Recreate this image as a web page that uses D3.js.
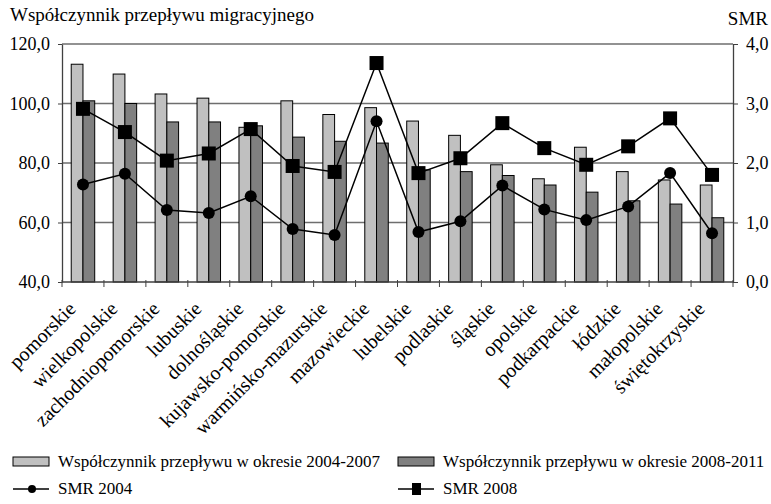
<!DOCTYPE html>
<html>
<head>
<meta charset="utf-8" />
<title>Współczynnik przepływu migracyjnego i SMR</title>
<script src="https://d3js.org/d3.v7.min.js"></script>
<style>
  body { margin: 0; background: #ffffff; }
  svg text { font-family: "Liberation Serif", "Times New Roman", serif; fill: #000; }
</style>
</head>
<body>
<svg id="chart"></svg>
<script>
// values
var regions = ["pomorskie", "wielkopolskie", "zachodniopomorskie", "lubuskie", "dolnośląskie",
  "kujawsko-pomorskie", "warmińsko-mazurskie", "mazowieckie", "lubelskie", "podlaskie",
  "śląskie", "opolskie", "podkarpackie", "łódzkie", "małopolskie", "świętokrzyskie"];
var flow0407 = [113.2, 109.9, 103.2, 101.8, 92.0, 100.9, 96.3, 98.6, 94.1, 89.3, 79.4, 74.7, 85.3, 77.1, 74.3, 72.6];
var flow0811 = [100.9, 100.0, 93.8, 93.8, 92.5, 88.7, 87.3, 86.7, 77.7, 77.1, 75.8, 72.6, 70.2, 67.3, 66.2, 61.6];
var smr2004 = [1.64, 1.82, 1.21, 1.16, 1.44, 0.89, 0.79, 2.70, 0.84, 1.02, 1.62, 1.22, 1.04, 1.27, 1.83, 0.82];
var smr2008 = [2.91, 2.52, 2.04, 2.16, 2.57, 1.95, 1.85, 3.68, 1.83, 2.08, 2.67, 2.25, 1.97, 2.28, 2.75, 1.80];
var leftTicks = [40, 60, 80, 100, 120];
var rightTicks = [0, 1, 2, 3, 4];
var seriesNames = ["Współczynnik przepływu w okresie 2004-2007", "Współczynnik przepływu w okresie 2008-2011", "SMR 2004", "SMR 2008"];

var width = 771, height = 504;
var plotLeft = 62, plotRight = 733, plotTop = 44, plotBottom = 282;

var svg = d3.select("#chart").attr("width", width).attr("height", height);

var x = d3.scaleBand().domain(regions).range([plotLeft, plotRight]).padding(0);
var inner = d3.scaleBand().domain([0, 1]).range([x.bandwidth() * 0.22, x.bandwidth() * 0.78]);
var yL = d3.scaleLinear().domain([40, 120]).range([plotBottom, plotTop]);
var yR = d3.scaleLinear().domain([0, 4]).range([plotBottom, plotTop]);

var fmt = function(d) { return d3.format(".1f")(d).replace(".", ","); };
var cx = function(i) { return x(regions[i]) + x.bandwidth() / 2; };

// gridlines
svg.append("g").selectAll("line")
  .data(leftTicks.slice(1))
  .enter().append("line")
  .attr("x1", plotLeft).attr("x2", plotRight)
  .attr("y1", function(d) { return yL(d); })
  .attr("y2", function(d) { return yL(d); })
  .attr("stroke", "#6e6e6e").attr("stroke-width", 1.3);

// bars
var rows = regions.map(function(r, i) { return { region: r, vals: [flow0407[i], flow0811[i]] }; });
var barColors = ["#c0c0c0", "#808080"];
svg.append("g").selectAll("g")
  .data(rows)
  .enter().append("g")
  .attr("transform", function(d) { return "translate(" + x(d.region) + ",0)"; })
  .selectAll("rect")
  .data(function(d) { return d.vals; })
  .enter().append("rect")
  .attr("x", function(d, i) { return inner(i); })
  .attr("width", inner.bandwidth())
  .attr("y", function(d) { return yL(d); })
  .attr("height", function(d) { return yL(40) - yL(d); })
  .attr("fill", function(d, i) { return barColors[i]; })
  .attr("stroke", "#000").attr("stroke-width", 1);

// axes
var axL = svg.append("g").attr("transform", "translate(" + plotLeft + ",0)")
  .call(d3.axisLeft(yL).tickValues(leftTicks).tickFormat(fmt).tickSizeInner(4).tickSizeOuter(0).tickPadding(8));
var axR = svg.append("g").attr("transform", "translate(" + plotRight + ",0)")
  .call(d3.axisRight(yR).tickValues(rightTicks).tickFormat(fmt).tickSizeInner(5).tickSizeOuter(0).tickPadding(8));
var bounds = regions.map(function(r) { return x(r); }).concat([plotRight]);
var axB = svg.append("g").attr("transform", "translate(0," + plotBottom + ")");
axB.append("line").attr("x1", plotLeft).attr("x2", plotRight).attr("stroke", "#404040").attr("stroke-width", 1.3);
axB.selectAll("line.tk").data(bounds).enter().append("line").attr("class", "tk")
  .attr("x1", function(d) { return d; }).attr("x2", function(d) { return d; })
  .attr("y1", -2).attr("y2", 5).attr("stroke", "#404040");

[axL, axR].forEach(function(a) {
  a.select(".domain").attr("stroke", "#404040").attr("stroke-width", 1.3);
  a.selectAll(".tick line").attr("stroke", "#404040");
  a.selectAll("text").style("font-size", "18px").style("font-family", "Liberation Serif, serif");
});

// category labels
axB.selectAll("text.cat").data(regions).enter().append("text").attr("class", "cat")
  .attr("transform", function(d) { return "translate(" + (x(d) + x.bandwidth() / 2 - 6) + ",28) rotate(-45)"; })
  .attr("text-anchor", "end")
  .style("font-size", "20px")
  .text(function(d) { return d; });

// SMR lines
var smrLine = d3.line().x(function(d, i) { return cx(i); }).y(function(d) { return yR(d); });
svg.append("path").datum(smr2004).attr("d", smrLine).attr("fill", "none").attr("stroke", "#000").attr("stroke-width", 1.5);
svg.append("path").datum(smr2008).attr("d", smrLine).attr("fill", "none").attr("stroke", "#000").attr("stroke-width", 1.5);

svg.append("g").selectAll("circle").data(smr2004).enter().append("circle")
  .attr("cx", function(d, i) { return cx(i); })
  .attr("cy", function(d) { return yR(d); })
  .attr("r", 6).attr("fill", "#000");

svg.append("g").selectAll("rect").data(smr2008).enter().append("rect")
  .attr("x", function(d, i) { return cx(i) - 7; })
  .attr("y", function(d) { return yR(d) - 7; })
  .attr("width", 14).attr("height", 14).attr("fill", "#000");

// axis titles
svg.append("text").attr("x", 10).attr("y", 21).style("font-size", "19px").text("Współczynnik przepływu migracyjnego");
svg.append("text").attr("x", 768).attr("y", 25).attr("text-anchor", "end").style("font-size", "19px").text("SMR");

// legend
var legX = [13, 398];
var lg = svg.append("g");
lg.append("rect").attr("x", legX[0]).attr("y", 457).attr("width", 36).attr("height", 9)
  .attr("fill", barColors[0]).attr("stroke", "#000");
lg.append("rect").attr("x", legX[1]).attr("y", 457).attr("width", 36).attr("height", 9)
  .attr("fill", barColors[1]).attr("stroke", "#000");
lg.append("line").attr("x1", legX[0]).attr("x2", legX[0] + 36).attr("y1", 489).attr("y2", 489).attr("stroke", "#000").attr("stroke-width", 1.5);
lg.append("circle").attr("cx", legX[0] + 19).attr("cy", 489).attr("r", 4).attr("fill", "#000");
lg.append("line").attr("x1", legX[1]).attr("x2", legX[1] + 36).attr("y1", 489).attr("y2", 489).attr("stroke", "#000").attr("stroke-width", 1.5);
lg.append("rect").attr("x", legX[1] + 14).attr("y", 483).attr("width", 9).attr("height", 12).attr("fill", "#000");
[[legX[0], 467, 0], [legX[1], 467, 1], [legX[0], 494, 2], [legX[1], 494, 3]].forEach(function(p) {
  lg.append("text").attr("x", p[0] + 45).attr("y", p[1]).style("font-size", "17px").text(seriesNames[p[2]]);
});
</script>
</body>
</html>
